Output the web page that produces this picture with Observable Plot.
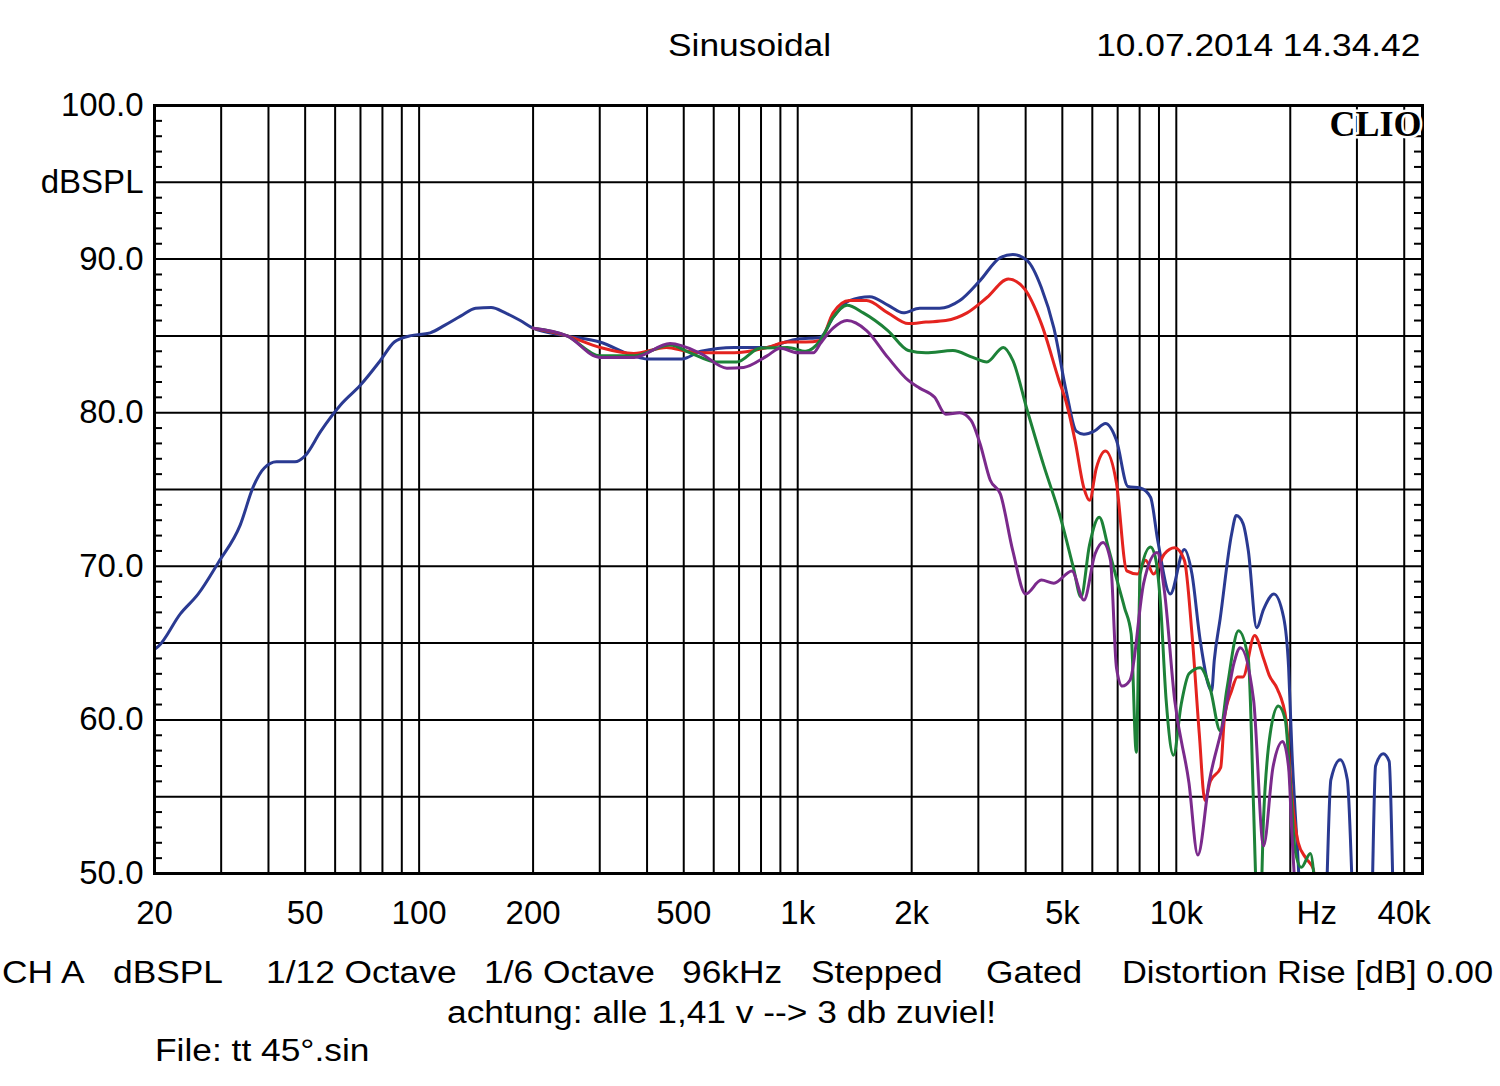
<!DOCTYPE html>
<html>
<head>
<meta charset="utf-8">
<script src="https://cdn.jsdelivr.net/npm/d3@7"></script>
<script src="https://cdn.jsdelivr.net/npm/@observablehq/plot@0.6"></script>
<style>
  html, body { margin: 0; padding: 0; background: #fff; }
  #page { position: relative; width: 1500px; height: 1086px; overflow: hidden; background: #fff;
          font-family: "Liberation Sans", Arial, sans-serif; color: #000; }
  .t { position: absolute; font-size: 31px; line-height: 31px; white-space: pre;
       transform: scaleX(1.14); transform-origin: left top; }
  .tr { transform-origin: right top; }
  #chart { position: absolute; left: 0; top: 80px; }
</style>
</head>
<body>
<div id="page">
  <div class="t" style="left:668px; top:30px;">Sinusoidal</div>
  <div class="t tr" style="right:80px; top:30px;">10.07.2014 14.34.42</div>
  <div id="chart"></div>
  <div class="t" style="left:2px; top:957px;">CH A</div>
  <div class="t" style="left:113px; top:957px;">dBSPL</div>
  <div class="t" style="left:266px; top:957px;">1/12 Octave</div>
  <div class="t" style="left:484px; top:957px;">1/6 Octave</div>
  <div class="t" style="left:682px; top:957px;">96kHz</div>
  <div class="t" style="left:811px; top:957px;">Stepped</div>
  <div class="t" style="left:986px; top:957px;">Gated</div>
  <div class="t" style="left:1122px; top:957px; transform: scaleX(1.11);">Distortion Rise [dB] 0.00</div>
  <div class="t" style="left:447px; top:997px;">achtung: alle 1,41 v --&gt; 3 db zuviel!</div>
  <div class="t" style="left:155px; top:1035px;">File: tt 45°.sin</div>
</div>
<script>
// ---- Data (frequency in Hz, level in dBSPL) ----
const blue = [
  [20,64.6],[20.5,64.8],[23.4,66.9],[26.1,68.2],[29.5,70.25],[33.7,72.7],[36.5,75.2],[39,76.4],
  [42,76.8],[47,76.8],[50,77.2],[55,78.8],[62,80.5],[70,81.8],[79,83.4],[86,84.6],[94.5,85.0],
  [107,85.2],[117,85.7],[129,86.3],[141,86.8],[155,86.85],[169,86.5],[185,86.0],[200,85.5],
  [246,85.0],[300,84.6],[369,83.7],[400,83.5],[494,83.5],[555,84.0],[680,84.25],[830,84.25],
  [900,84.5],[1000,84.8],[1147,84.9],[1240,86.2],[1370,87.3],[1550,87.55],[1730,87.0],[1900,86.5],
  [2100,86.8],[2370,86.8],[2680,87.3],[3030,88.6],[3430,90.1],[3700,90.3],[4040,89.9],[4400,88.15],
  [4750,85.5],[5130,81.3],[5440,78.8],[5700,78.6],[6070,78.8],[6500,79.3],[6950,78.2],[7450,75.2],
  [8030,75.1],[8550,74.5],[8930,71.7],[9640,68.2],[10500,71.1],[11000,69.5],[11560,65.2],[12400,61.9],
  [12600,63.9],[13060,66.6],[14000,72.1],[14400,73.3],[15000,72.8],[15500,71.0],[16300,66.0],
  [17000,67.2],[18100,68.2],[19200,66.7],[19800,63.4],[20200,58.0],[20900,51.5],[21600,46],
  [24600,46],[25600,56.1],[27100,57.4],[28300,56.1],[29700,46],[32600,46],[33600,57.0],
  [35200,57.8],[36500,57.3],[37800,46],[44700,46]
];
const red = [
  [200,85.5],[246,85.0],[300,84.25],[369,83.85],[450,84.25],[511,84.0],[575,83.9],[680,83.9],
  [830,84.25],[940,84.6],[1050,84.6],[1147,84.7],[1240,86.5],[1370,87.3],[1520,87.3],[1730,86.5],
  [1960,85.8],[2180,85.9],[2460,86.0],[2800,86.5],[3160,87.5],[3600,88.7],[3960,88.1],[4400,85.8],
  [4900,82.1],[5130,80.6],[5400,78.2],[5700,75.1],[5900,74.3],[6150,76.4],[6500,77.5],[6950,75.4],
  [7400,69.7],[7900,69.5],[8300,70.4],[8700,69.5],[9300,70.8],[9900,71.2],[10500,70.4],[11000,65.6],
  [11500,59.1],[11900,54.75],[12300,56.0],[13100,56.9],[13400,60.1],[14000,61.9],[14500,62.8],
  [15000,62.8],[16100,65.5],[17000,64.0],[17600,62.9],[18500,62.0],[19500,60.0],[20200,55.0],
  [21000,52.0],[22000,51.0],[23000,50.3],[24000,46],[44700,46]
];
const green = [
  [200,85.5],[246,85.0],[300,83.7],[370,83.7],[460,84.4],[520,83.9],[610,83.3],[690,83.3],
  [795,84.2],[940,84.25],[1050,84.0],[1147,84.7],[1240,86.2],[1350,87.0],[1490,86.5],[1730,85.35],
  [1960,84.05],[2180,83.9],[2570,84.05],[2900,83.6],[3160,83.3],[3490,84.25],[3700,83.4],[4040,80.15],
  [4460,76.6],[4940,73.2],[5350,69.9],[5600,68.0],[5900,71.4],[6260,73.2],[6600,71.3],[6900,69.5],
  [7300,67.3],[7600,65.6],[7840,57.9],[8030,69.5],[8550,71.25],[8800,70.6],[9070,67.8],[9400,61.3],
  [9830,57.7],[10300,61.0],[10800,63.0],[11560,63.4],[12300,62.0],[13060,59.3],[13600,62.0],
  [14600,65.8],[15500,63.9],[16000,54.3],[16300,48],[16600,46],[17000,53.6],[17700,59.1],
  [18600,60.9],[19400,60.0],[20000,55.9],[20600,51.5],[21400,50.4],[22600,51.3],[23500,48],
  [24000,46],[44700,46]
];
const purple = [
  [200,85.5],[246,85.0],[300,83.6],[370,83.6],[460,84.5],[555,83.85],[650,82.9],[720,82.95],
  [830,83.7],[900,84.2],[1000,83.9],[1100,83.9],[1147,84.5],[1240,85.5],[1350,86.0],[1520,85.35],
  [1730,83.6],[1960,82.1],[2100,81.6],[2300,81.0],[2460,79.9],[2680,80.0],[2870,79.5],[3030,78.0],
  [3226,75.6],[3430,74.7],[3700,71.0],[4000,68.2],[4400,69.1],[4750,68.9],[5300,69.7],[5700,67.8],
  [6100,70.8],[6400,71.55],[6700,70.4],[6950,63.4],[7200,62.2],[7550,62.6],[8200,68.9],[8900,70.9],
  [9300,68.4],[9900,61.3],[10800,55.9],[11400,51.2],[12200,55.9],[13400,60.2],[14200,63.7],
  [14750,64.7],[16000,61.3],[17000,51.8],[18000,56.9],[19100,58.6],[19800,56.9],[20200,52.6],
  [21200,46],[44700,46]
];

const seriesData = [blue, red, green, purple];
const seriesColors = ["#2a3a92", "#e4231f", "#1d8238", "#7b2a8c"];

// grid / ticks
const xGrid = [30,40,50,60,70,80,90,100,200,300,400,500,600,700,800,900,
               1000,2000,3000,4000,5000,6000,7000,8000,9000,10000,20000,30000,40000];
const yGrid = [55,60,65,70,75,80,85,90,95];
const yMinor = d3.range(51, 100).filter(v => v % 5 !== 0);
const xTickValues = [20,50,100,200,500,1000,2000,5000,10000,23500,40000];
const xTickLabels = ["20","50","100","200","500","1k","2k","5k","10k","Hz","40k"];
const yTickValues = [50,60,70,80,90,95,100];
const yTickLabels = ["50.0","60.0","70.0","80.0","90.0","dBSPL","100.0"];
const brand = ["CLIO"];

const W = 1500, H = 860;
const mL = 154, mR = 78, mT = 25, mB = 67;
const innerW = W - mL - mR;
const xLab = new Map(xTickValues.map((v, i) => [v, xTickLabels[i]]));
const yLab = new Map(yTickValues.map((v, i) => [v, yTickLabels[i]]));

const plot = Plot.plot({
  width: W, height: H,
  marginLeft: mL, marginRight: mR, marginTop: mT, marginBottom: mB,
  x: {type: "log", domain: [20, 44700]},
  y: {domain: [50, 100]},
  style: {fontFamily: "'Liberation Sans', Arial, sans-serif", fontSize: "33px", color: "#000", background: "#fff"},
  marks: [
    Plot.ruleX(xGrid, {stroke: "#000", strokeWidth: 2}),
    Plot.ruleY(yGrid, {stroke: "#000", strokeWidth: 2}),
    Plot.tickY(yMinor, {stroke: "#000", strokeWidth: 2, insetRight: innerW - 8}),
    Plot.tickY(yMinor, {stroke: "#000", strokeWidth: 2, insetLeft: innerW - 8}),
    ...seriesData.map((arr, i) => Plot.line(arr, {
      x: d => d[0], y: d => d[1], stroke: seriesColors[i], strokeWidth: 3,
      curve: "monotone-x", clip: true
    })),
    Plot.frame({stroke: "#000", strokeWidth: 3}),
    Plot.text(brand, {text: d => d, frameAnchor: "top-right", textAnchor: "end", lineAnchor: "top",
      dx: -1, dy: 5, fontFamily: "'Liberation Serif', 'Times New Roman', serif", fontWeight: "bold",
      fontSize: 36, fill: "#000", stroke: "#fff", strokeWidth: 5, paintOrder: "stroke"}),
    Plot.axisX(xTickValues, {anchor: "bottom", label: null, tickSize: 0, tickPadding: 27,
      tickFormat: d => xLab.get(d), fontSize: 33}),
    Plot.axisY(yTickValues, {anchor: "left", label: null, tickSize: 0, tickPadding: 11,
      tickFormat: d => yLab.get(d), fontSize: 33})
  ]
});
document.getElementById("chart").appendChild(plot);
</script>
</body>
</html>
